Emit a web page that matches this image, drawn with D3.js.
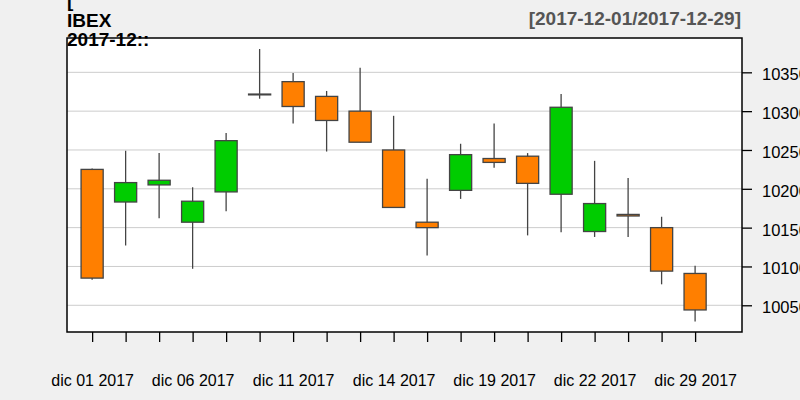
<!DOCTYPE html>
<html>
<head>
<meta charset="utf-8">
<script src="https://cdn.jsdelivr.net/npm/d3@7"></script>
<style>
  body { margin: 0; background: #F0F0F0; }
  svg { display: block; font-family: "Liberation Sans", Arial, sans-serif; }
</style>
</head>
<body>
<svg id="chart" width="800" height="400"></svg>
<script>
// IBEX daily, december 2017
var dates = ['2017-12-01','2017-12-04','2017-12-05','2017-12-06','2017-12-07','2017-12-08',
	'2017-12-11','2017-12-12','2017-12-13','2017-12-14','2017-12-15',
	'2017-12-18','2017-12-19','2017-12-20','2017-12-21','2017-12-22',
	'2017-12-27','2017-12-28','2017-12-29'];
var open  = [10225, 10183, 10205, 10157, 10196, 10321, 10338, 10319, 10300, 10250, 10157, 10198, 10239, 10242, 10193, 10145, 10167, 10150, 10091];
var high  = [10226, 10249, 10246, 10202, 10272, 10380, 10349, 10326, 10356, 10294, 10213, 10258, 10284, 10246, 10322, 10236, 10214, 10164, 10101];
var low   = [10083, 10127, 10162, 10097, 10171, 10316, 10284, 10248, 10260, 10176, 10114, 10187, 10227, 10140, 10144, 10138, 10138, 10077, 10029];
var close = [10085, 10208, 10211, 10184, 10262, 10322, 10306, 10288, 10260, 10176, 10150, 10244, 10234, 10207, 10305, 10181, 10165, 10094, 10044];

var yTicks = [10050, 10100, 10150, 10200, 10250, 10300, 10350];
var labelIdx = [0, 3, 6, 9, 12, 15, 18];

width = 800;
height = 400;
left = 67; right = 742; top_ = 38; bottom = 332;

var es = d3.timeFormatLocale({
	dateTime: '%x %X', date: '%d/%m/%Y', time: '%H:%M:%S',
	periods: ['AM', 'PM'],
	days: ['domingo','lunes','martes','miércoles','jueves','viernes','sábado'],
	shortDays: ['dom','lun','mar','mié','jue','vie','sáb'],
	months: ['enero','febrero','marzo','abril','mayo','junio','julio','agosto','septiembre','octubre','noviembre','diciembre'],
	shortMonths: ['ene','feb','mar','abr','may','jun','jul','ago','sep','oct','nov','dic']
});
var fmt = es.format('%b %d %Y');
var parse = d3.timeParse('%Y-%m-%d');

const svg = d3.select('#chart');

const x = d3.scaleLinear().domain([-0.75, dates.length + 0.4]).range([left, right]);
const y = d3.scaleLinear().domain([10015.6, 10394.2]).range([bottom, top_]);

// plot area
svg.append('rect')
	.attr('x', left).attr('y', top_)
	.attr('width', right - left).attr('height', bottom - top_)
	.attr('fill', '#FFFFFF');

svg.append('g').selectAll('line').data(yTicks).join('line')
	.attr('x1', left).attr('x2', right)
	.attr('y1', d => y(d)).attr('y2', d => y(d))
	.attr('stroke', '#CCCCCC').attr('stroke-width', 1);

// candles
const bodyW = (x(1) - x(0)) * 0.66;
const cg = svg.append('g');
dates.forEach(function(d, i){
	const g = cg.append('g');
	g.append('line')
		.attr('x1', x(i)).attr('x2', x(i))
		.attr('y1', y(high[i])).attr('y2', y(low[i]))
		.attr('stroke', '#444444').attr('stroke-width', 1.3);
	const up = close[i] >= open[i];
	const t = y(Math.max(open[i], close[i]));
	const b = y(Math.min(open[i], close[i]));
	g.append('rect')
		.attr('x', x(i) - bodyW / 2).attr('y', t)
		.attr('width', bodyW).attr('height', Math.max(b - t, 0.8))
		.attr('fill', up ? '#00CC00' : '#FF7F00')
		.attr('stroke', '#444444').attr('stroke-width', 1.3);
});

// frame
svg.append('rect')
	.attr('x', left).attr('y', top_)
	.attr('width', right - left).attr('height', bottom - top_)
	.attr('fill', 'none').attr('stroke', '#000').attr('stroke-width', 1.5);

// axes
const yAxis = svg.append('g')
	.attr('transform', `translate(${right},0)`)
	.call(d3.axisRight(y).tickValues(yTicks).tickSize(10).tickPadding(10).tickFormat(d3.format('d')));
yAxis.select('.domain').remove();
yAxis.selectAll('text').attr('font-size', 16.5).attr('dy', '0.45em').attr('fill', '#000');

const xAxis = svg.append('g')
	.attr('transform', `translate(0,${bottom})`)
	.call(d3.axisBottom(x).tickValues(d3.range(dates.length)).tickSize(10).tickPadding(33)
		.tickFormat(i => labelIdx.indexOf(i) >= 0 ? fmt(parse(dates[i])) : ''));
xAxis.select('.domain').remove();
xAxis.selectAll('text').attr('font-size', 16).attr('fill', '#000');
xAxis.selectAll('line').attr('stroke-width', 1.3);
yAxis.selectAll('line').attr('stroke-width', 1.3);

// titles
const title = svg.append('g').attr('font-weight', 'bold').attr('font-size', 19);
title.append('text').attr('x', left).attr('y', 7).text('[');
title.append('text').attr('x', left).attr('y', 27).text('IBEX');
title.append('text').attr('x', left).attr('y', 46).text('2017-12::');
svg.append('text')
	.attr('x', 741).attr('y', 25)
	.attr('text-anchor', 'end')
	.attr('font-weight', 'bold').attr('font-size', 19)
	.attr('fill', '#555555')
	.text('[' + dates[0] + '/' + dates[dates.length - 1] + ']');
</script>
</body>
</html>
